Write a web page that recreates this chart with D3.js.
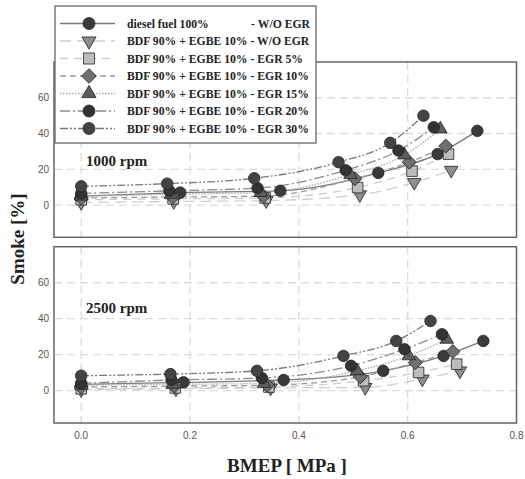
<!DOCTYPE html>
<html>
<head>
<meta charset="utf-8">
<script src="https://cdn.jsdelivr.net/npm/d3@7"></script>
<style>
  body { margin: 0; background: #fff; }
  svg { display: block; }
</style>
</head>
<body>
<div id="chart"></div>
<script>
// series labels (legend order)
let seriesNames = [
    'diesel fuel 100%',
    'BDF 90% + EGBE 10% - W/O EGR',
    'BDF 90% + EGBE 10% - EGR 5%',
    'BDF 90% + EGBE 10% - EGR 10%',
    'BDF 90% + EGBE 10% - EGR 15%',
    'BDF 90% + EGBE 10% - EGR 20%',
    'BDF 90% + EGBE 10% - EGR 30%'
];

// 1000 rpm : BMEP [MPa] and smoke [%]
let bmep1000 = [
    [0, 0.182, 0.366, 0.546, 0.655, 0.728],
    [0, 0.170, 0.340, 0.512, 0.612, 0.680],
    [0, 0.169, 0.338, 0.508, 0.608, 0.675],
    [0, 0.168, 0.335, 0.503, 0.603, 0.670],
    [0, 0.165, 0.330, 0.495, 0.594, 0.660],
    [0, 0.162, 0.324, 0.486, 0.583, 0.648],
    [0, 0.158, 0.318, 0.473, 0.568, 0.629]
];
let smoke1000 = [
    [5, 7, 8, 18, 28.5, 41.5],
    [1.5, 2, 2.5, 5.8, 12.7, 19.5],
    [3, 3.5, 4, 9.8, 19, 28.5],
    [4, 4.5, 5, 14.8, 24, 33],
    [5, 6, 7, 17, 28, 42.5],
    [6.5, 8, 9.5, 19.5, 30.5, 43.5],
    [10.5, 12, 15, 24, 34.8, 50]
];

// 2500 rpm
let bmep2500 = [
    [0, 0.188, 0.372, 0.555, 0.666, 0.739],
    [0, 0.174, 0.348, 0.522, 0.627, 0.696],
    [0, 0.173, 0.345, 0.519, 0.620, 0.690],
    [0, 0.171, 0.342, 0.513, 0.614, 0.683],
    [0, 0.168, 0.336, 0.507, 0.602, 0.672],
    [0, 0.166, 0.332, 0.496, 0.594, 0.663],
    [0, 0.164, 0.323, 0.482, 0.579, 0.642]
];
let smoke2500 = [
    [3.5, 4.6, 5.9, 11, 19.3, 27.6],
    [0.5, 1, 1.5, 1.8, 6.5, 11],
    [1, 1.5, 2, 5.5, 10.1, 14.7],
    [2, 2.5, 3, 7.7, 15.6, 21.7],
    [3, 3.5, 4, 11, 19.3, 28.5],
    [4, 5.9, 7, 13.8, 23, 31.3],
    [8.3, 9.2, 11, 19.3, 27.6, 38.7]
];

let panelLabels = ['1000 rpm', '2500 rpm'];
let xTicks = [0, 0.2, 0.4, 0.6, 0.8];
let yTicks = [0, 20, 40, 60];

// styles per series
let lineColors = ['#7a7a7a', '#cfcfcf', '#cccccc', '#9a9a9a', '#a8a8a8', '#8a8a8a', '#777'];
let dashes = [null, '11,6', '8,6', '6,4', '1.5,1.5', '10,3,2,3', '8,2,2,2,2,2'];
let fills = ['#3a3a3a', '#8e8e8e', '#bdbdbd', '#707070', '#5e5e5e', '#333', '#444'];
let shapes = ['circle', 'tdown', 'square', 'diamond', 'tup', 'circle', 'circle'];

let width = 525, height = 479;
let svg = d3.select('#chart').append('svg')
    .attr('width', width)
    .attr('height', height);

let left = 54, right = 516.5;
let panels = [
    { top: 62, bottom: 237.3, xs: bmep1000, ys: smoke1000 },
    { top: 246.7, bottom: 423, xs: bmep2500, ys: smoke2500 }
];

let x = d3.scaleLinear().domain([-0.05, 0.8]).range([left, right]);

function symbolPath(shape, s) {
    if (shape == 'circle') return d3.symbol(d3.symbolCircle, s * s * 3.14 / 4 * 1.0)();
    if (shape == 'square') return d3.symbol(d3.symbolSquare, s * s * 0.85)();
    if (shape == 'diamond') return d3.symbol(d3.symbolSquare, s * s * 0.75)();
    return d3.symbol(d3.symbolTriangle, s * s * 0.6)();
}
function symbolRotate(shape) {
    if (shape == 'tdown') return 180;
    if (shape == 'diamond') return 45;
    return 0;
}

let line = d3.line().curve(d3.curveMonotoneX);

panels.forEach((p, pi) => {
    let y = d3.scaleLinear().domain([-18, 80]).range([p.bottom, p.top]);
    let g = svg.append('g');

    // grid
    g.selectAll('.gx').data(xTicks.slice(0, 4)).enter().append('line')
        .attr('x1', d => x(d)).attr('x2', d => x(d))
        .attr('y1', p.top).attr('y2', p.bottom)
        .attr('stroke', '#dcdcdc').attr('stroke-width', 1.4)
        .attr('stroke-dasharray', '8,5');
    g.selectAll('.gy').data(yTicks).enter().append('line')
        .attr('x1', left).attr('x2', right)
        .attr('y1', d => y(d)).attr('y2', d => y(d))
        .attr('stroke', '#dcdcdc').attr('stroke-width', 1.4)
        .attr('stroke-dasharray', '8,5');

    // y tick labels
    g.selectAll('.yl').data(yTicks).enter().append('text')
        .attr('x', left - 5).attr('y', d => y(d) + 3.5)
        .attr('text-anchor', 'end')
        .attr('font-family', 'Liberation Sans, Arial, sans-serif')
        .attr('font-size', 10).attr('fill', '#555')
        .text(d => d);

    // series lines
    seriesNames.forEach((name, i) => {
        let pts = p.xs[i].map((v, j) => [x(v), y(p.ys[i][j])]);
        g.append('path')
            .attr('d', line(pts))
            .attr('fill', 'none')
            .attr('stroke', lineColors[i])
            .attr('stroke-width', 1.3)
            .attr('stroke-dasharray', dashes[i]);
    });

    // markers
    seriesNames.forEach((name, i) => {
        g.selectAll('.m' + i).data(p.xs[i]).enter().append('path')
            .attr('d', symbolPath(shapes[i], 11.5))
            .attr('transform', (v, j) => 'translate(' + x(v) + ',' + y(p.ys[i][j]) + ') rotate(' + symbolRotate(shapes[i]) + ')')
            .attr('fill', fills[i])
            .attr('stroke', '#222')
            .attr('stroke-width', 0.8);
    });

    // frame
    g.append('rect')
        .attr('x', left).attr('y', p.top)
        .attr('width', right - left).attr('height', p.bottom - p.top)
        .attr('fill', 'none').attr('stroke', '#666').attr('stroke-width', 1.5);

    g.append('text')
        .attr('x', 86).attr('y', pi == 0 ? 166 : 313)
        .attr('font-family', 'Liberation Serif, Times New Roman, serif')
        .attr('font-weight', 'bold').attr('font-size', 15)
        .attr('fill', '#222')
        .text(panelLabels[pi]);
});

// x tick labels (bottom panel only)
svg.selectAll('.xl').data(xTicks).enter().append('text')
    .attr('x', d => x(d)).attr('y', 439)
    .attr('text-anchor', 'middle')
    .attr('font-family', 'Liberation Sans, Arial, sans-serif')
    .attr('font-size', 10).attr('fill', '#555')
    .text(d => d.toFixed(1));

// axis titles
svg.append('text')
    .attr('x', 287).attr('y', 472)
    .attr('text-anchor', 'middle')
    .attr('font-family', 'Liberation Serif, Times New Roman, serif')
    .attr('font-weight', 'bold').attr('font-size', 19)
    .attr('fill', '#222')
    .text('BMEP [ MPa ]');

svg.append('text')
    .attr('transform', 'translate(24,239) rotate(-90)')
    .attr('text-anchor', 'middle')
    .attr('font-family', 'Liberation Serif, Times New Roman, serif')
    .attr('font-weight', 'bold').attr('font-size', 19)
    .attr('fill', '#222')
    .text('Smoke [%]');

// legend
let lg = svg.append('g');
lg.append('rect')
    .attr('x', 55).attr('y', 6).attr('width', 261).attr('height', 137)
    .attr('fill', '#fff').attr('stroke', '#666').attr('stroke-width', 1.3);

let rowY = d3.scaleLinear().domain([0, 6]).range([23.5, 128.5]);
seriesNames.forEach((name, i) => {
    let yy = rowY(i);
    lg.append('line')
        .attr('x1', 60).attr('x2', 115).attr('y1', yy).attr('y2', yy)
        .attr('stroke', lineColors[i]).attr('stroke-width', 1.3)
        .attr('stroke-dasharray', dashes[i]);
    lg.append('path')
        .attr('d', symbolPath(shapes[i], 12))
        .attr('transform', 'translate(89,' + yy + ') rotate(' + symbolRotate(shapes[i]) + ')')
        .attr('fill', fills[i]).attr('stroke', '#222').attr('stroke-width', 0.8);
    lg.append('text')
        .attr('x', 127).attr('y', yy + 4)
        .attr('font-family', 'Liberation Serif, Times New Roman, serif')
        .attr('font-weight', 'bold').attr('font-size', 11.7)
        .attr('fill', '#222')
        .text(name);
});
lg.append('text')
    .attr('x', 310).attr('y', rowY(0) + 4)
    .attr('text-anchor', 'end')
    .attr('font-family', 'Liberation Serif, Times New Roman, serif')
    .attr('font-weight', 'bold').attr('font-size', 11.7)
    .attr('fill', '#222')
    .text('- W/O EGR');
</script>
</body>
</html>
